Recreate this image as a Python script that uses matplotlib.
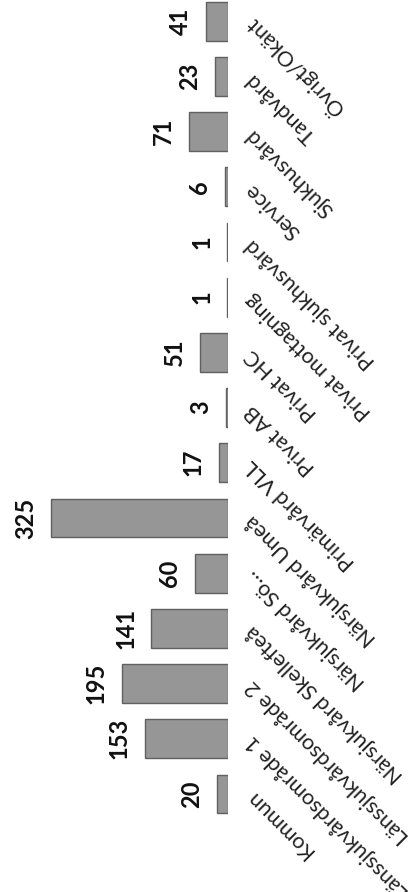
import numpy as np
import matplotlib
matplotlib.use('Agg')
import matplotlib.pyplot as plt

# kategorier och värden (diagrammet är roterat 90 grader)
categories = ['Kommun', 'Länssjukvårdsområde 1', 'Länssjukvårdsområde 2',
              'Närsjukvård Skellefteå', 'Närsjukvård Sö...', 'Närsjukvård Umeå',
              'Primärvård VLL', 'Privat AB', 'Privat HC', 'Privat mottagning',
              'Privat sjukhusvård', 'Service', 'Sjukhusvård', 'Tandvård',
              'Övrigt/Okänt']
values = [20, 153, 195, 141, 60, 325, 17, 3, 51, 1, 1, 6, 71, 23, 41]

plt.rcParams['font.family'] = ['Lato', 'DejaVu Sans']

fig = plt.figure(figsize=(4.15, 8.92), dpi=100)
ax = fig.add_axes([0, 0.0789, 228 / 415, 0.9283])

pos = np.arange(len(categories))
ax.barh(pos, values, height=0.70, color='#969696', edgecolor='#606060', linewidth=1.0)

ax.set_xlim(418.6, 0)
ax.set_ylim(-0.5, len(categories) - 0.5)

# etiketter på kategoriaxeln, snett
ax.yaxis.tick_right()
ax.set_yticks(pos)
ax.set_yticklabels(categories, rotation=135, rotation_mode='anchor',
                   ha='right', va='center', fontsize=15.5, color='#222222')
ax.tick_params(axis='y', length=0, pad=15)
ax.set_xticks([])
for s in ax.spines.values():
    s.set_visible(False)

# värdeetiketter
for i, v in enumerate(values):
    ax.annotate(str(v), xy=(v, i), xytext=(-13, 0), textcoords='offset points',
                rotation=90, rotation_mode='anchor', ha='center', va='baseline',
                fontsize=17, fontweight='bold', color='#111111')

fig.savefig('out.png', dpi=100, facecolor='white')
